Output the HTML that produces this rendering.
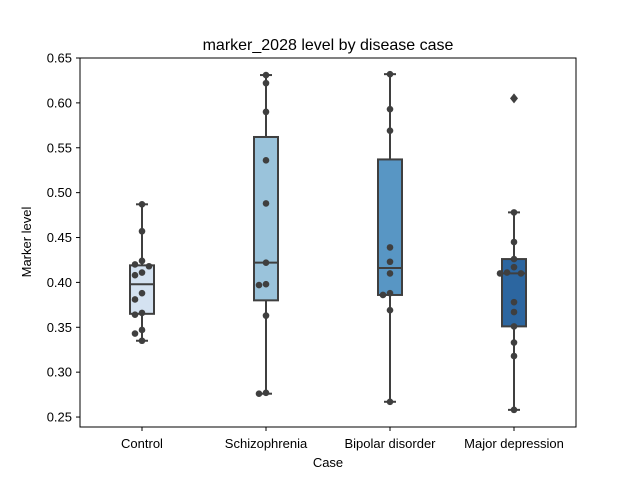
<!DOCTYPE html>
<html><head><meta charset="utf-8"><style>
body{margin:0;background:#fff}
svg text{font-family:"Liberation Sans","DejaVu Sans",sans-serif;fill:#000}
</style></head><body>
<svg id="chart" width="640" height="480" viewBox="0 0 640 480">
<rect width="640" height="480" fill="#fff"/>
<text x="328" y="50" font-size="16" text-anchor="middle">marker_2028 level by disease case</text>
<g id="yticks"></g>
<g id="xticks"></g>
<g id="boxes"></g>
<g id="points"></g>
<rect x="80" y="58" width="496" height="369" fill="none" stroke="#000" stroke-width="1"/>
<text x="328" y="467" font-size="13" text-anchor="middle">Case</text>
<text transform="translate(31,242) rotate(-90)" font-size="13" text-anchor="middle">Marker level</text>
</svg>
<script>
const categories = ["Control","Schizophrenia","Bipolar disorder","Major depression"];
const yTicks = [0.25,0.30,0.35,0.40,0.45,0.50,0.55,0.60,0.65];
const yTickLabels = ["0.25","0.30","0.35","0.40","0.45","0.50","0.55","0.60","0.65"];
const q1 = [0.365,0.380,0.386,0.351];
const medians = [0.398,0.422,0.416,0.410];
const q3 = [0.419,0.562,0.537,0.426];
const whiskerLow = [0.335,0.276,0.267,0.258];
const whiskerHigh = [0.487,0.631,0.632,0.478];
const outliers = [[],[],[],[0.605]];
const pointsControl = [0.487,0.457,0.424,0.420,0.418,0.411,0.408,0.388,0.381,0.366,0.364,0.347,0.343,0.335];
const pointsSchizophrenia = [0.631,0.622,0.590,0.536,0.488,0.422,0.398,0.397,0.363,0.277,0.276];
const pointsBipolar = [0.632,0.593,0.569,0.439,0.423,0.410,0.388,0.386,0.369,0.267];
const pointsDepression = [0.478,0.445,0.426,0.417,0.411,0.410,0.410,0.378,0.367,0.351,0.333,0.318,0.258];
const colors = ["#d4e2f1","#9ac3db","#5896c4","#2c66a0"];

const NS="http://www.w3.org/2000/svg";
const x0=80,x1=576,yTop=58,yBot=427;
const yMin=0.2389,yMax=0.65;
function yS(v){return yTop+(yMax-v)/(yMax-yMin)*(yBot-yTop);}
function xS(i){return x0+(i+0.5)*(x1-x0)/categories.length;}
function mk(tag,attrs,parent){const e=document.createElementNS(NS,tag);for(const k in attrs)e.setAttribute(k,attrs[k]);parent.appendChild(e);return e;}
const gy=document.getElementById('yticks'),gx=document.getElementById('xticks'),gb=document.getElementById('boxes'),gp=document.getElementById('points');
yTicks.forEach((t,i)=>{
  const y=yS(t);
  const l=mk('line',{x1:76,x2:80,y1:y,y2:y,stroke:'#000'},gy);
  
  
  const tx=mk('text',{x:72,y:y+4.5,'font-size':13,'text-anchor':'end'},gy);
  tx.textContent=yTickLabels[i];
  
  
});
categories.forEach((c,i)=>{
  const x=xS(i);
  const l=mk('line',{x1:x,x2:x,y1:427,y2:431,stroke:'#000'},gx);
  
  
  const tx=mk('text',{x:x,y:448,'font-size':13,'text-anchor':'middle'},gx);
  tx.textContent=c;
  
  
});
const ec='#3f3f3f',hw=12;
categories.forEach((c,i)=>{
  const x=xS(i);
  const g=mk('g',{},gb);
  
  
  mk('line',{x1:x,x2:x,y1:yS(whiskerHigh[i]),y2:yS(q3[i]),stroke:ec,'stroke-width':2},g);
  mk('line',{x1:x,x2:x,y1:yS(q1[i]),y2:yS(whiskerLow[i]),stroke:ec,'stroke-width':2},g);
  mk('line',{x1:x-6,x2:x+6,y1:yS(whiskerHigh[i]),y2:yS(whiskerHigh[i]),stroke:ec,'stroke-width':2},g);
  mk('line',{x1:x-6,x2:x+6,y1:yS(whiskerLow[i]),y2:yS(whiskerLow[i]),stroke:ec,'stroke-width':2},g);
  mk('rect',{x:x-hw,y:yS(q3[i]),width:2*hw,height:yS(q1[i])-yS(q3[i]),fill:colors[i],stroke:ec,'stroke-width':2},g);
  mk('line',{x1:x-hw,x2:x+hw,y1:yS(medians[i]),y2:yS(medians[i]),stroke:ec,'stroke-width':2},g);
  outliers[i].forEach(v=>{
    const y=yS(v);
    const d=mk('path',{d:`M${x} ${y-5}L${x+4} ${y}L${x} ${y+5}L${x-4} ${y}Z`,fill:ec},g);
    
    
  });
});
[pointsControl,pointsSchizophrenia,pointsBipolar,pointsDepression].forEach((arr,i)=>{
  const cx=xS(i);const placed=[];
  arr.forEach(v=>{
    const y=yS(v);let off=0;
    const cands=[0,-7,7,-14,14];
    for(const o of cands){ if(!placed.some(p=>Math.hypot(p[0]-o,p[1]-y)<6.5)){off=o;break;} }
    placed.push([off,y]);
    const c=mk('circle',{cx:cx+off,cy:y,r:3.3,fill:ec},gp);
    
    
  });
});
</script>
</body></html>
